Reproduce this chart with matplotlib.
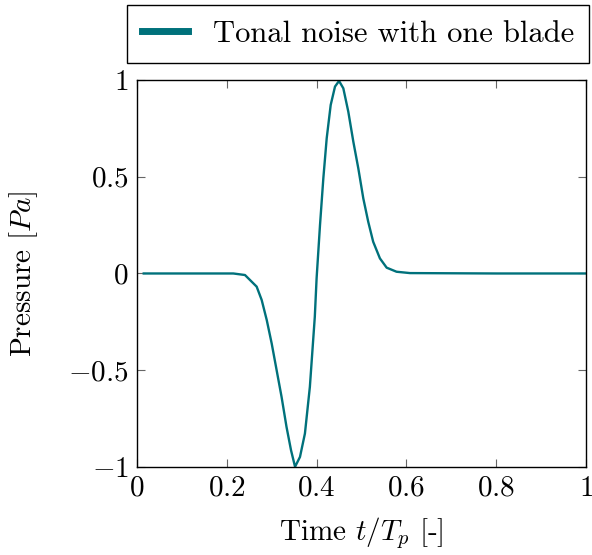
import matplotlib
matplotlib.use("Agg")
from matplotlib import pyplot as plt

plt.rcParams["font.family"] = "cmr10"
plt.rcParams["mathtext.fontset"] = "cm"
plt.rcParams["axes.formatter.use_mathtext"] = True
plt.rcParams["font.size"] = 20

# values
time = [0.015, 0.1, 0.196, 0.2145, 0.2405, 0.2665, 0.2777, 0.289, 0.300, 0.311,
        0.322, 0.333, 0.343, 0.352, 0.363, 0.374, 0.385, 0.396, 0.400, 0.4076,
        0.415, 0.4225, 0.4314, 0.441, 0.450, 0.4595, 0.4706, 0.4818, 0.4929, 0.504,
        0.515, 0.526, 0.541, 0.556, 0.578, 0.608, 0.8, 1.0]
pressure = [0.0, 0.0, 0.0, 0.0, -0.008, -0.068, -0.137, -0.241, -0.362, -0.50,
            -0.638, -0.793, -0.913, -0.999, -0.948, -0.827, -0.586, -0.224, -0.025, 0.251,
            0.492, 0.699, 0.871, 0.966, 0.995, 0.957, 0.836, 0.681, 0.543, 0.388,
            0.267, 0.164, 0.078, 0.030, 0.009, 0.002, 0.0, 0.0]

xticks = [0, 0.2, 0.4, 0.6, 0.8, 1]
xticklabels = ["$0$", "$0.2$", "$0.4$", "$0.6$", "$0.8$", "$1$"]
yticks = [-1, -0.5, 0, 0.5, 1]
yticklabels = ["$-1$", "$-0.5$", "$0$", "$0.5$", "$1$"]

fig = plt.figure(figsize=(5.92, 5.55), dpi=100)
ax = fig.add_axes([0.2314, 0.1586, 0.7585, 0.6973])

line, = ax.plot(time, pressure, color="#00717B", linewidth=1.7)

ax.set_xlim(0, 1)
ax.set_ylim(-1, 1)
ax.set_xticks(xticks)
ax.set_xticklabels(xticklabels, fontsize=21)
ax.set_yticks(yticks)
ax.set_yticklabels(yticklabels, fontsize=21)
ax.tick_params(direction="in", top=True, right=True, length=6, width=0.8,
               color="#666666", pad=6)
for s in ax.spines.values():
    s.set_linewidth(1.0)

ax.set_xlabel(r"Time $t/T_p$ [-]", fontsize=21, labelpad=10)
ax.set_ylabel(r"Pressure [$Pa$]", fontsize=21, labelpad=20)

leg = fig.legend([line], ["Tonal noise with one blade"], loc="upper right",
                 bbox_to_anchor=(0.995, 0.991), borderaxespad=0, fontsize=22,
                 fancybox=False, edgecolor="black", framealpha=1,
                 handlelength=1.5, borderpad=0.5, handletextpad=0.8)
leg.get_frame().set_linewidth(1.0)
leg.get_lines()[0].set_linewidth(5)

fig.savefig("out.png", dpi=100)
